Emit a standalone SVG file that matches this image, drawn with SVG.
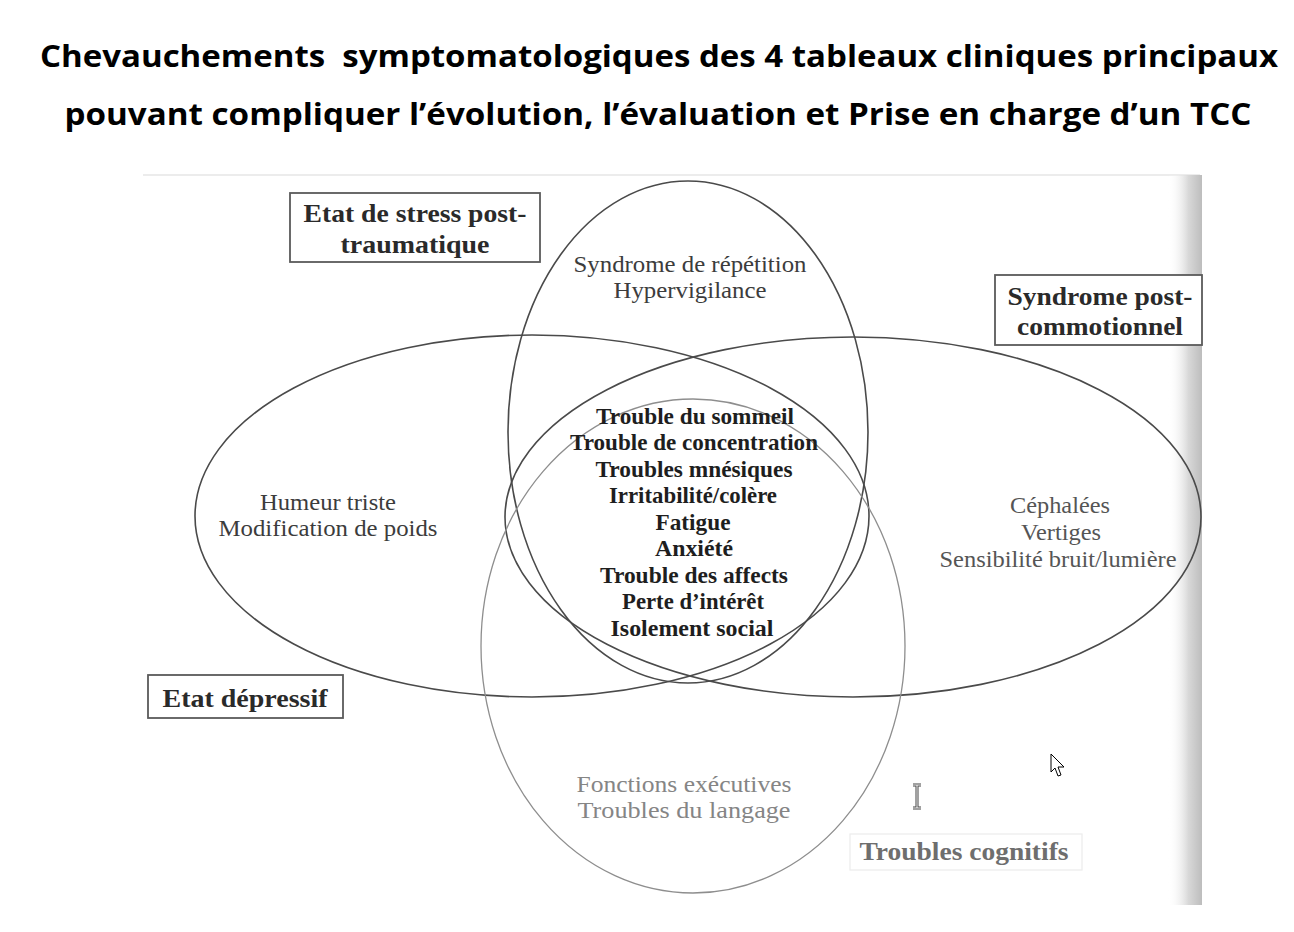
<svg xmlns="http://www.w3.org/2000/svg" width="1294" height="932" viewBox="0 0 1294 932">
<style>
.title{font-family:"Open Sans","Noto Sans",sans-serif;font-weight:bold;font-size:30px;fill:#000;text-anchor:middle}
.lbl{font-family:"Liberation Serif","DejaVu Serif",serif;font-weight:bold;font-size:25px;fill:#2a2a2a;text-anchor:middle}
.sym{font-family:"Liberation Serif","DejaVu Serif",serif;font-size:23px;fill:#3c3c3c;text-anchor:middle}
.core{font-family:"Liberation Serif","DejaVu Serif",serif;font-weight:bold;font-size:23px;fill:#1e1e1e;text-anchor:middle}
.set{fill:none;stroke:#4a4a4a;stroke-width:1.6}
.box{fill:#fff;stroke:#5a5a5a;stroke-width:1.8}
</style>
<defs>
<linearGradient id="shadow" x1="0" y1="0" x2="1" y2="0">
<stop offset="0" stop-color="#fff" stop-opacity="0"/>
<stop offset="0.6" stop-color="#d8d8d8"/>
<stop offset="1" stop-color="#bdbdbd"/>
</linearGradient>
</defs>
<rect width="1294" height="932" fill="#fff"/>
<g id="title">
<text class="title" x="659" y="67" textLength="1238" lengthAdjust="spacingAndGlyphs">Chevauchements&#160; symptomatologiques des 4 tableaux cliniques principaux</text>
<text class="title" x="658" y="125" textLength="1187" lengthAdjust="spacingAndGlyphs">pouvant compliquer l’évolution, l’évaluation et Prise en charge d’un TCC</text>
</g>
<g id="scan">
<line x1="143" y1="175" x2="1200" y2="175" stroke="#e6e6e6" stroke-width="1.5"/>
<rect x="1168" y="175" width="34" height="730" fill="url(#shadow)"/>
</g>
<g id="sets">
<ellipse id="set-ptsd" class="set" cx="688" cy="432" rx="180" ry="251"/>
<ellipse id="set-depression" class="set" cx="532" cy="516" rx="337" ry="181"/>
<ellipse id="set-postconcussion" class="set" cx="853" cy="517" rx="348" ry="180"/>
<ellipse id="set-cognitive" cx="693" cy="646" rx="212" ry="247" style="fill:none;stroke:#8e8e8e;stroke-width:1.3"/>
</g>
<g id="node-ptsd">
<rect class="box" x="290" y="193" width="250" height="69"/>
<text class="lbl" x="415" y="222" textLength="223" lengthAdjust="spacingAndGlyphs">Etat de stress post-</text>
<text class="lbl" x="415" y="253" textLength="149" lengthAdjust="spacingAndGlyphs">traumatique</text>
<text class="sym" x="690" y="272" textLength="233" lengthAdjust="spacingAndGlyphs">Syndrome de répétition</text>
<text class="sym" x="690" y="298" textLength="153" lengthAdjust="spacingAndGlyphs">Hypervigilance</text>
</g>
<g id="node-postconcussion">
<rect class="box" x="995" y="275" width="207" height="70"/>
<text class="lbl" x="1100" y="305" textLength="185" lengthAdjust="spacingAndGlyphs">Syndrome post-</text>
<text class="lbl" x="1100" y="335" textLength="166" lengthAdjust="spacingAndGlyphs">commotionnel</text>
<text class="sym" x="1060" y="513" textLength="100" lengthAdjust="spacingAndGlyphs" style="fill:#555">Céphalées</text>
<text class="sym" x="1061" y="540" textLength="80" lengthAdjust="spacingAndGlyphs" style="fill:#555">Vertiges</text>
<text class="sym" x="1058" y="567" textLength="237" lengthAdjust="spacingAndGlyphs" style="fill:#555">Sensibilité bruit/lumière</text>
</g>
<g id="node-depression">
<rect class="box" x="148" y="675" width="195" height="43"/>
<text class="lbl" x="245" y="707" textLength="165" lengthAdjust="spacingAndGlyphs">Etat dépressif</text>
<text class="sym" x="328" y="510" textLength="136" lengthAdjust="spacingAndGlyphs">Humeur triste</text>
<text class="sym" x="328" y="536" textLength="219" lengthAdjust="spacingAndGlyphs">Modification de poids</text>
</g>
<g id="node-cognitive">
<rect x="850" y="834" width="232" height="36" fill="#fff" stroke="#ececec" stroke-width="1.2"/>
<text class="lbl" x="964" y="860" textLength="209" lengthAdjust="spacingAndGlyphs" style="fill:#6e6e6e">Troubles cognitifs</text>
<text class="sym" x="684" y="792" textLength="215" lengthAdjust="spacingAndGlyphs" style="fill:#858585">Fonctions exécutives</text>
<text class="sym" x="684" y="818" textLength="213" lengthAdjust="spacingAndGlyphs" style="fill:#858585">Troubles du langage</text>
</g>
<g id="node-common">
<text class="core" x="695" y="424" textLength="198" lengthAdjust="spacingAndGlyphs">Trouble du sommeil</text>
<text class="core" x="694" y="450" textLength="248" lengthAdjust="spacingAndGlyphs">Trouble de concentration</text>
<text class="core" x="694" y="477" textLength="197" lengthAdjust="spacingAndGlyphs">Troubles mnésiques</text>
<text class="core" x="693" y="503" textLength="168" lengthAdjust="spacingAndGlyphs">Irritabilité/colère</text>
<text class="core" x="693" y="530" textLength="75" lengthAdjust="spacingAndGlyphs">Fatigue</text>
<text class="core" x="694" y="556" textLength="78" lengthAdjust="spacingAndGlyphs">Anxiété</text>
<text class="core" x="694" y="583" textLength="188" lengthAdjust="spacingAndGlyphs">Trouble des affects</text>
<text class="core" x="693" y="609" textLength="142" lengthAdjust="spacingAndGlyphs">Perte d’intérêt</text>
<text class="core" x="692" y="636" textLength="163" lengthAdjust="spacingAndGlyphs">Isolement social</text>
</g>
<g id="cursors">
<path d="M1051,754 L1051,772 L1055,768 L1058,776 L1061,775 L1058,767 L1064,767 Z" fill="#fff" stroke="#000" stroke-width="1"/>
<path d="M913,785 h8 M913,808 h8 M917,785 v23" stroke="#444" stroke-width="3" fill="none"/>
<path d="M913,785 h8 M913,808 h8 M917,785 v23" stroke="#fff" stroke-width="1" fill="none"/>
</g>
</svg>
